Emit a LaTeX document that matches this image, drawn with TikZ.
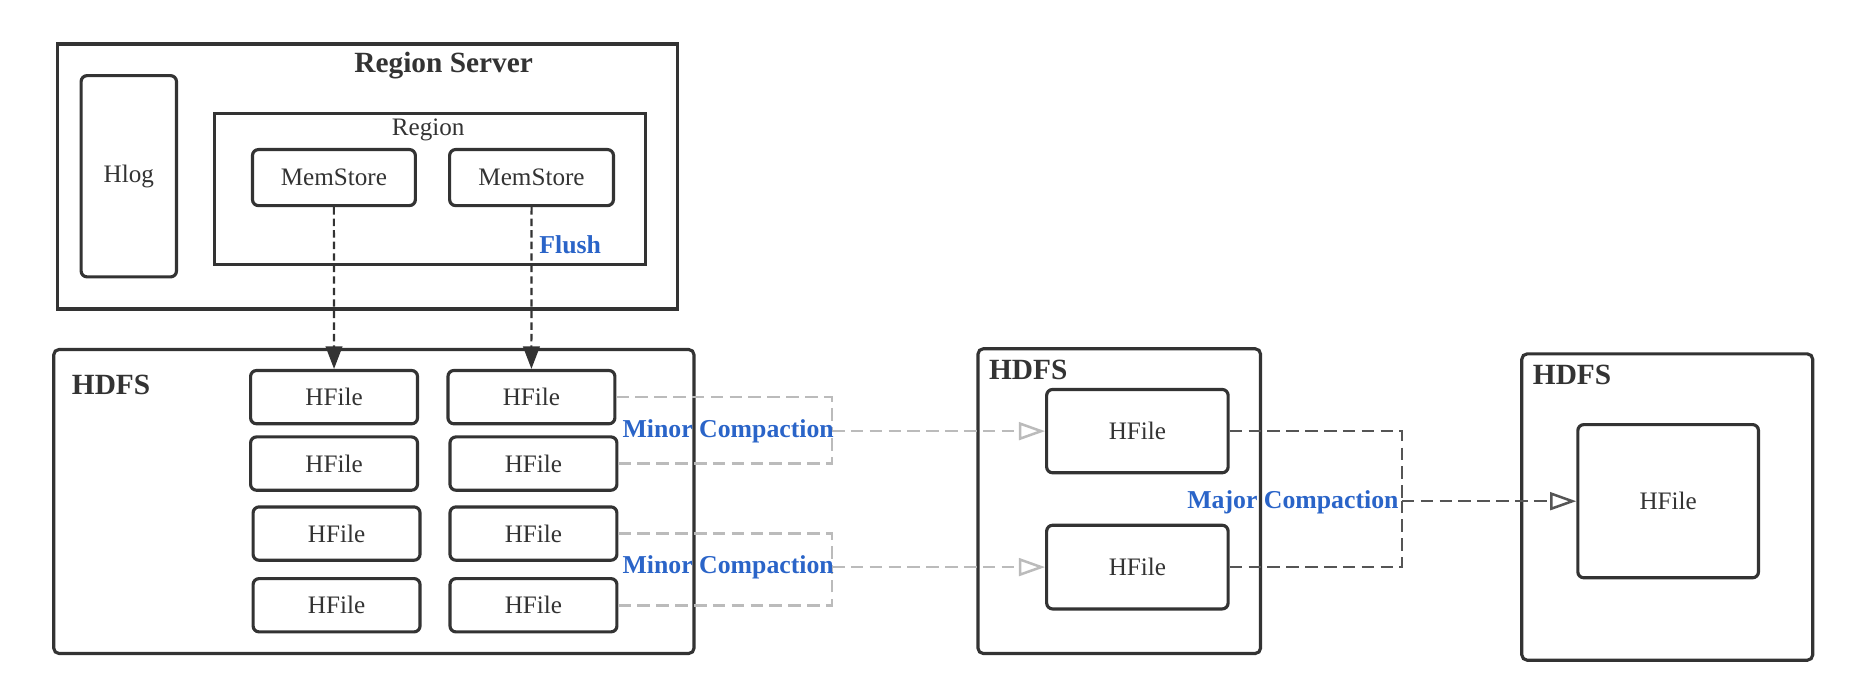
\documentclass[tikz,border=0pt]{standalone}
\usepackage{fontspec}
\setmainfont{Liberation Serif}
\usetikzlibrary{arrows.meta}
\definecolor{ink}{HTML}{333333}
\definecolor{lbl}{HTML}{2A64C8}
\definecolor{minorc}{HTML}{BBBBBB}
\definecolor{majorc}{HTML}{555555}
\begin{document}
\begin{tikzpicture}[x=0.02cm,y=-0.02cm,
 box/.style={draw=ink,line width=1.5pt,rounded corners=0.1cm,fill=white,text=ink,font=\fontsize{12}{14}\selectfont,inner sep=0pt},
 hdfsbox/.style={draw=ink,line width=1.5pt,rounded corners=0.09cm,inner sep=0pt},
 sqbox/.style={draw=ink,line width=1.7pt,inner sep=0pt},
 title/.style={font=\bfseries\fontsize{14}{16}\selectfont,text=ink,inner sep=0pt},
 plain/.style={font=\fontsize{12}{14}\selectfont,text=ink,inner sep=0pt},
 lab/.style={font=\bfseries\fontsize{12.3}{14}\selectfont,text=lbl,inner sep=0pt},
 flushline/.style={draw=ink,line width=1pt,dash pattern=on 3.5pt off 2pt,-{Triangle[length=0.38cm,width=0.28cm]}},
 minorline/.style={draw=minorc,line width=1.2pt,dash pattern=on 6pt off 3pt},
 majorline/.style={draw=majorc,line width=1.2pt,dash pattern=on 6pt off 3pt},
 hfile/.style={box,minimum width=2.8cm,minimum height=0.894cm},
 opentip/.style={-{Triangle[open,length=0.44cm,width=0.3cm]}},
]
\useasboundingbox (0,0) rectangle (1568,585.3);

% Region Server
\node[sqbox,minimum width=10.4cm,minimum height=4.44cm] (rs) at (308,148) {};
\node[title] (rstitle) at (372,55) {Region Server};
\node[box,minimum width=1.6cm,minimum height=3.376cm] (hlog) at (108,147.8) {Hlog};
\node[sqbox,line width=1.5pt,minimum width=7.22cm,minimum height=2.53cm] (region) at (360.5,158.65) {};
\node[plain] (regiontitle) at (359,109.3) {Region};
\node[box,minimum width=2.732cm,minimum height=0.94cm] (ms1) at (280,148.9) {MemStore};
\node[box,minimum width=2.748cm,minimum height=0.94cm] (ms2) at (445.7,148.9) {MemStore};

% HDFS boxes
\node[hdfsbox,minimum width=10.74cm,minimum height=5.1cm] (hd1) at (313.5,420.5) {};
\node[title,anchor=west] (hd1t) at (60,323) {HDFS};
\node[hdfsbox,minimum width=4.74cm,minimum height=5.112cm] (hd2) at (938.5,420.2) {};
\node[title,anchor=west] (hd2t) at (829,310) {HDFS};
\node[hdfsbox,minimum width=4.88cm,minimum height=5.138cm] (hd3) at (1398,425.15) {};
\node[title,anchor=west] (hd3t) at (1285,314) {HDFS};

% compaction connectors
\coordinate (b1) at (697.6,361.5);
\coordinate (b2) at (697.6,475.5);
\coordinate (b3) at (1175.5,420.25);

% HFiles
\node[hfile] (h11) at (280.1,333) {HFile};
\node[hfile] (h12) at (445.6,333) {HFile};
\node[hfile] (h21) at (280.1,388.7) {HFile};
\node[hfile] (h22) at (447.3,388.7) {HFile};
\node[hfile] (h31) at (282.2,447.4) {HFile};
\node[hfile] (h32) at (447.3,447.4) {HFile};
\node[hfile] (h41) at (282.2,507.5) {HFile};
\node[hfile] (h42) at (447.3,507.5) {HFile};

\node[box,minimum width=3.044cm,minimum height=1.398cm] (m1) at (953.7,361.5) {HFile};
\node[box,minimum width=3.044cm,minimum height=1.404cm] (m2) at (953.7,475.5) {HFile};
\node[box,minimum width=3.03cm,minimum height=2.57cm] (r1) at (1398.75,420.25) {HFile};

% flush arrows
\draw[flushline] (ms1.south) -- (h11.north);
\draw[flushline] (ms2.south) -- (h12.north);
\node[lab,anchor=west] (flush) at (452,205) {Flush};

% minor compactions
\draw[minorline] (h12.east) -| (b1);
\draw[minorline] (h22.east) -| (b1);
\draw[minorline,opentip] (b1) -- (m1.west);
\draw[minorline] (h32.east) -| (b2);
\draw[minorline] (h42.east) -| (b2);
\draw[minorline,opentip] (b2) -- (m2.west);
\node[lab,anchor=east] (minor1) at (699.5,362) {Minor Compaction};
\node[lab,anchor=east] (minor2) at (699.5,476) {Minor Compaction};

% major compaction
\draw[majorline] (m1.east) -| (b3);
\draw[majorline] (m2.east) -| (b3);
\draw[majorline,opentip] (b3) -- (r1.west);
\node[lab,anchor=east] (major) at (1173,421) {Major Compaction};
\end{tikzpicture}
\end{document}
